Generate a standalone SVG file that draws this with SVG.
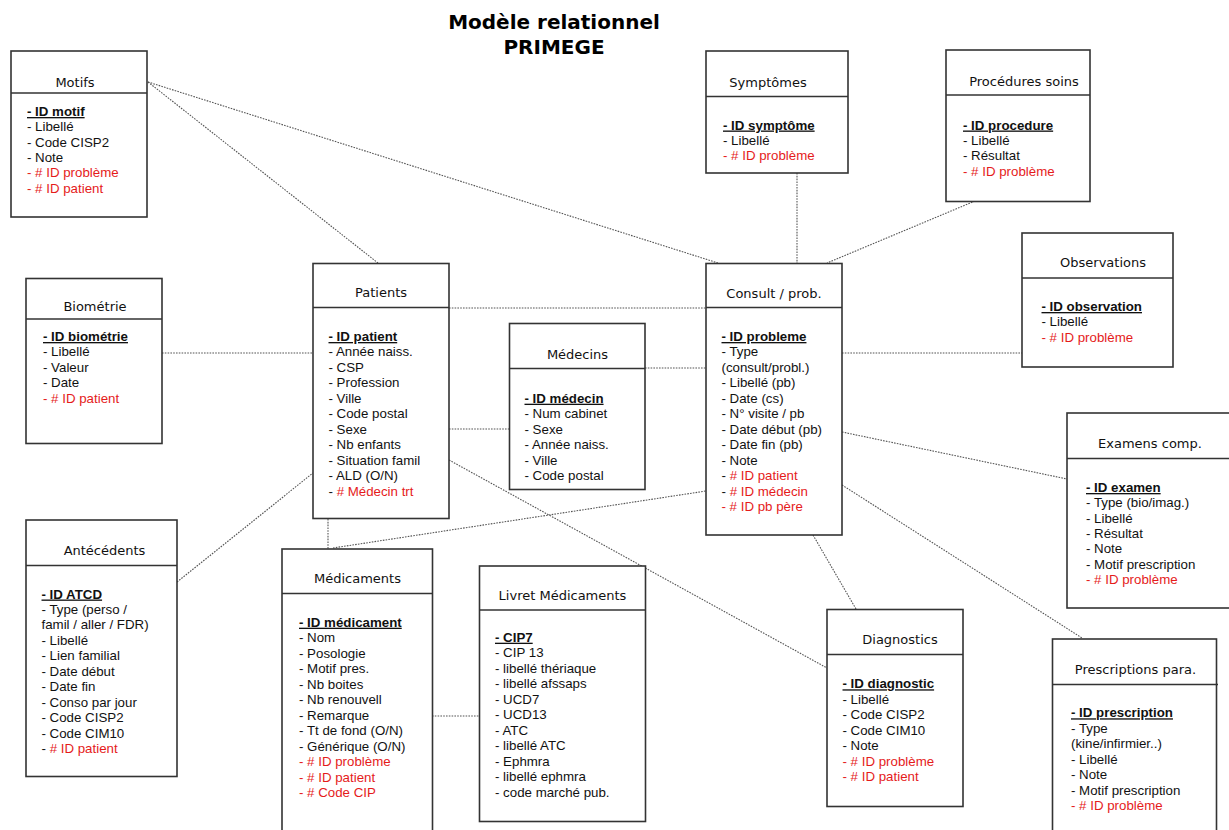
<svg xmlns="http://www.w3.org/2000/svg" width="1229" height="830" viewBox="0 0 1229 830">
<style>
.box{fill:#fff;stroke:#333;stroke-width:1.6}
.hd{stroke:#333;stroke-width:1.6}
.ttl{font-family:"DejaVu Sans",Verdana,sans-serif;font-size:13px;fill:#111;text-anchor:middle}
.b{font-family:"Liberation Sans",Arial,sans-serif;font-size:13.3px;fill:#111}
.pk{font-weight:bold;text-decoration:underline}
.r{fill:#e51b1b}
.main{font-family:"DejaVu Sans",Verdana,sans-serif;font-size:20px;font-weight:bold;fill:#000;text-anchor:middle}
.c{fill:none;stroke:#555;stroke-width:1.1;stroke-dasharray:1.6 1.2}
</style>
<rect width="1229" height="830" fill="#fff"/>
<g id="title">
<text class="main" x="554" y="29">Modèle relationnel</text>
<text class="main" x="554" y="54">PRIMEGE</text>
</g>
<g id="connectors">
<line class="c" x1="148" y1="82" x2="718" y2="263"/>
<line class="c" x1="148" y1="82" x2="378" y2="263"/>
<line class="c" x1="797" y1="173" x2="797" y2="263"/>
<line class="c" x1="975" y1="201" x2="827" y2="263"/>
<line class="c" x1="842" y1="353" x2="1022" y2="353"/>
<line class="c" x1="842" y1="432" x2="1067" y2="479"/>
<line class="c" x1="842" y1="485" x2="1082" y2="638"/>
<line class="c" x1="813" y1="535" x2="856" y2="609"/>
<line class="c" x1="449" y1="460" x2="827" y2="668"/>
<line class="c" x1="449" y1="308" x2="706" y2="308"/>
<line class="c" x1="645" y1="368" x2="706" y2="368"/>
<line class="c" x1="449" y1="429" x2="509" y2="429"/>
<line class="c" x1="162" y1="353" x2="313" y2="353"/>
<line class="c" x1="177" y1="582" x2="313" y2="473"/>
<line class="c" x1="328" y1="519" x2="328" y2="549"/>
<line class="c" x1="333" y1="548" x2="706" y2="491"/>
<line class="c" x1="432" y1="716" x2="479" y2="716"/>
</g>
<g id="motifs">
<rect class="box" x="11" y="51" width="136" height="166"/>
<line class="hd" x1="11" y1="93" x2="147" y2="93"/>
<text class="ttl" x="75" y="86.5">Motifs</text>
<text class="b" x="27" y="116"><tspan class="pk">- ID motif</tspan><tspan x="27" dy="15.35">- Libellé</tspan><tspan x="27" dy="15.35">- Code CISP2</tspan><tspan x="27" dy="15.35">- Note</tspan><tspan class="r" x="27" dy="15.35">- # ID problème</tspan><tspan class="r" x="27" dy="15.35">- # ID patient</tspan></text>
</g>
<g id="symptomes">
<rect class="box" x="706" y="51" width="142" height="122"/>
<line class="hd" x1="706" y1="96.5" x2="848" y2="96.5"/>
<text class="ttl" x="768" y="86.5">Symptômes</text>
<text class="b" x="723" y="129.5"><tspan class="pk">- ID symptôme</tspan><tspan x="723" dy="15.4">- Libellé</tspan><tspan class="r" x="723" dy="15.4">- # ID problème</tspan></text>
</g>
<g id="procedures">
<rect class="box" x="946" y="50" width="144" height="151.5"/>
<line class="hd" x1="946" y1="95" x2="1090" y2="95"/>
<text class="ttl" x="1024" y="85.5">Procédures soins</text>
<text class="b" x="963" y="129.5"><tspan class="pk">- ID procedure</tspan><tspan x="963" dy="15.4">- Libellé</tspan><tspan x="963" dy="15.4">- Résultat</tspan><tspan class="r" x="963" dy="15.4">- # ID problème</tspan></text>
</g>
<g id="observations">
<rect class="box" x="1022" y="233" width="151" height="134"/>
<line class="hd" x1="1022" y1="278" x2="1173" y2="278"/>
<text class="ttl" x="1103" y="267">Observations</text>
<text class="b" x="1041.5" y="311"><tspan class="pk">- ID observation</tspan><tspan x="1041.5" dy="15.4">- Libellé</tspan><tspan class="r" x="1041.5" dy="15.4">- # ID problème</tspan></text>
</g>
<g id="examens">
<rect class="box" x="1067" y="413" width="170" height="195"/>
<line class="hd" x1="1067" y1="458.5" x2="1237" y2="458.5"/>
<text class="ttl" x="1150" y="448">Examens comp.</text>
<text class="b" x="1086" y="492"><tspan class="pk">- ID examen</tspan><tspan x="1086" dy="15.3">- Type (bio/imag.)</tspan><tspan x="1086" dy="15.3">- Libellé</tspan><tspan x="1086" dy="15.3">- Résultat</tspan><tspan x="1086" dy="15.3">- Note</tspan><tspan x="1086" dy="15.3">- Motif prescription</tspan><tspan class="r" x="1086" dy="15.3">- # ID problème</tspan></text>
</g>
<g id="biometrie">
<rect class="box" x="26" y="278.5" width="136" height="165"/>
<line class="hd" x1="26" y1="319" x2="162" y2="319"/>
<text class="ttl" x="95" y="311">Biométrie</text>
<text class="b" x="43" y="341"><tspan class="pk">- ID biométrie</tspan><tspan x="43" dy="15.4">- Libellé</tspan><tspan x="43" dy="15.4">- Valeur</tspan><tspan x="43" dy="15.4">- Date</tspan><tspan class="r" x="43" dy="15.4">- # ID patient</tspan></text>
</g>
<g id="patients">
<rect class="box" x="313" y="263.5" width="136" height="255"/>
<line class="hd" x1="313" y1="307.5" x2="449" y2="307.5"/>
<text class="ttl" x="381" y="297">Patients</text>
<text class="b" x="328.5" y="341"><tspan class="pk">- ID patient</tspan><tspan x="328.5" dy="15.45">- Année naiss.</tspan><tspan x="328.5" dy="15.45">- CSP</tspan><tspan x="328.5" dy="15.45">- Profession</tspan><tspan x="328.5" dy="15.45">- Ville</tspan><tspan x="328.5" dy="15.45">- Code postal</tspan><tspan x="328.5" dy="15.45">- Sexe</tspan><tspan x="328.5" dy="15.45">- Nb enfants</tspan><tspan x="328.5" dy="15.45">- Situation famil</tspan><tspan x="328.5" dy="15.45">- ALD (O/N)</tspan><tspan x="328.5" dy="15.45">- </tspan><tspan class="r"># Médecin trt</tspan></text>
</g>
<g id="medecins">
<rect class="box" x="509.5" y="323.5" width="135.5" height="166"/>
<line class="hd" x1="509.5" y1="368.5" x2="645" y2="368.5"/>
<text class="ttl" x="577.5" y="358.5">Médecins</text>
<text class="b" x="524.5" y="402.7"><tspan class="pk">- ID médecin</tspan><tspan x="524.5" dy="15.45">- Num cabinet</tspan><tspan x="524.5" dy="15.45">- Sexe</tspan><tspan x="524.5" dy="15.45">- Année naiss.</tspan><tspan x="524.5" dy="15.45">- Ville</tspan><tspan x="524.5" dy="15.45">- Code postal</tspan></text>
</g>
<g id="consult">
<rect class="box" x="706" y="263.5" width="136" height="271.5"/>
<line class="hd" x1="706" y1="307.5" x2="842" y2="307.5"/>
<text class="ttl" x="774" y="297.5">Consult / prob.</text>
<text class="b" x="721.5" y="341"><tspan class="pk">- ID probleme</tspan><tspan x="721.5" dy="15.45">- Type</tspan><tspan x="721.5" dy="15.45">(consult/probl.)</tspan><tspan x="721.5" dy="15.45">- Libellé (pb)</tspan><tspan x="721.5" dy="15.45">- Date (cs)</tspan><tspan x="721.5" dy="15.45">- N° visite / pb</tspan><tspan x="721.5" dy="15.45">- Date début (pb)</tspan><tspan x="721.5" dy="15.45">- Date fin (pb)</tspan><tspan x="721.5" dy="15.45">- Note</tspan><tspan x="721.5" dy="15.45">- </tspan><tspan class="r"># ID patient</tspan><tspan x="721.5" dy="15.45">- </tspan><tspan class="r"># ID médecin</tspan><tspan class="r" x="721.5" dy="15.45">- # ID pb père</tspan></text>
</g>
<g id="antecedents">
<rect class="box" x="26" y="520" width="151" height="256.5"/>
<line class="hd" x1="26" y1="565.5" x2="177" y2="565.5"/>
<text class="ttl" x="104.5" y="555">Antécédents</text>
<text class="b" x="41.5" y="598.5"><tspan class="pk">- ID ATCD</tspan><tspan x="41.5" dy="15.45">- Type (perso /</tspan><tspan x="41.5" dy="15.45">famil / aller / FDR)</tspan><tspan x="41.5" dy="15.45">- Libellé</tspan><tspan x="41.5" dy="15.45">- Lien familial</tspan><tspan x="41.5" dy="15.45">- Date début</tspan><tspan x="41.5" dy="15.45">- Date fin</tspan><tspan x="41.5" dy="15.45">- Conso par jour</tspan><tspan x="41.5" dy="15.45">- Code CISP2</tspan><tspan x="41.5" dy="15.45">- Code CIM10</tspan><tspan x="41.5" dy="15.45">- </tspan><tspan class="r"># ID patient</tspan></text>
</g>
<g id="medicaments">
<rect class="box" x="282" y="549" width="150.5" height="290"/>
<line class="hd" x1="282" y1="593.5" x2="432.5" y2="593.5"/>
<text class="ttl" x="357.5" y="583">Médicaments</text>
<text class="b" x="299" y="626.7"><tspan class="pk">- ID médicament</tspan><tspan x="299" dy="15.5">- Nom</tspan><tspan x="299" dy="15.5">- Posologie</tspan><tspan x="299" dy="15.5">- Motif pres.</tspan><tspan x="299" dy="15.5">- Nb boites</tspan><tspan x="299" dy="15.5">- Nb renouvell</tspan><tspan x="299" dy="15.5">- Remarque</tspan><tspan x="299" dy="15.5">- Tt de fond (O/N)</tspan><tspan x="299" dy="15.5">- Générique (O/N)</tspan><tspan class="r" x="299" dy="15.5">- # ID problème</tspan><tspan class="r" x="299" dy="15.5">- # ID patient</tspan><tspan class="r" x="299" dy="15.5">- # Code CIP</tspan></text>
</g>
<g id="livret">
<rect class="box" x="479.5" y="566" width="166" height="255.5"/>
<line class="hd" x1="479.5" y1="610" x2="645.5" y2="610"/>
<text class="ttl" x="562.5" y="599.5">Livret Médicaments</text>
<text class="b" x="495" y="641.7"><tspan class="pk">- CIP7</tspan><tspan x="495" dy="15.5">- CIP 13</tspan><tspan x="495" dy="15.5">- libellé thériaque</tspan><tspan x="495" dy="15.5">- libellé afssaps</tspan><tspan x="495" dy="15.5">- UCD7</tspan><tspan x="495" dy="15.5">- UCD13</tspan><tspan x="495" dy="15.5">- ATC</tspan><tspan x="495" dy="15.5">- libellé ATC</tspan><tspan x="495" dy="15.5">- Ephmra</tspan><tspan x="495" dy="15.5">- libellé ephmra</tspan><tspan x="495" dy="15.5">- code marché pub.</tspan></text>
</g>
<g id="diagnostics">
<rect class="box" x="827" y="609.5" width="136" height="197"/>
<line class="hd" x1="827" y1="654.5" x2="963" y2="654.5"/>
<text class="ttl" x="900" y="644">Diagnostics</text>
<text class="b" x="842.5" y="688.3"><tspan class="pk">- ID diagnostic</tspan><tspan x="842.5" dy="15.5">- Libellé</tspan><tspan x="842.5" dy="15.5">- Code CISP2</tspan><tspan x="842.5" dy="15.5">- Code CIM10</tspan><tspan x="842.5" dy="15.5">- Note</tspan><tspan class="r" x="842.5" dy="15.5">- # ID problème</tspan><tspan class="r" x="842.5" dy="15.5">- # ID patient</tspan></text>
</g>
<g id="prescriptions">
<rect class="box" x="1052.5" y="639" width="164" height="200"/>
<line class="hd" x1="1052.5" y1="684.5" x2="1218" y2="684.5"/>
<text class="ttl" x="1135.5" y="674">Prescriptions para.</text>
<text class="b" x="1071" y="717.3"><tspan class="pk">- ID prescription</tspan><tspan x="1071" dy="15.5">- Type</tspan><tspan x="1071" dy="15.5">(kine/infirmier..)</tspan><tspan x="1071" dy="15.5">- Libellé</tspan><tspan x="1071" dy="15.5">- Note</tspan><tspan x="1071" dy="15.5">- Motif prescription</tspan><tspan class="r" x="1071" dy="15.5">- # ID problème</tspan></text>
</g>
</svg>
